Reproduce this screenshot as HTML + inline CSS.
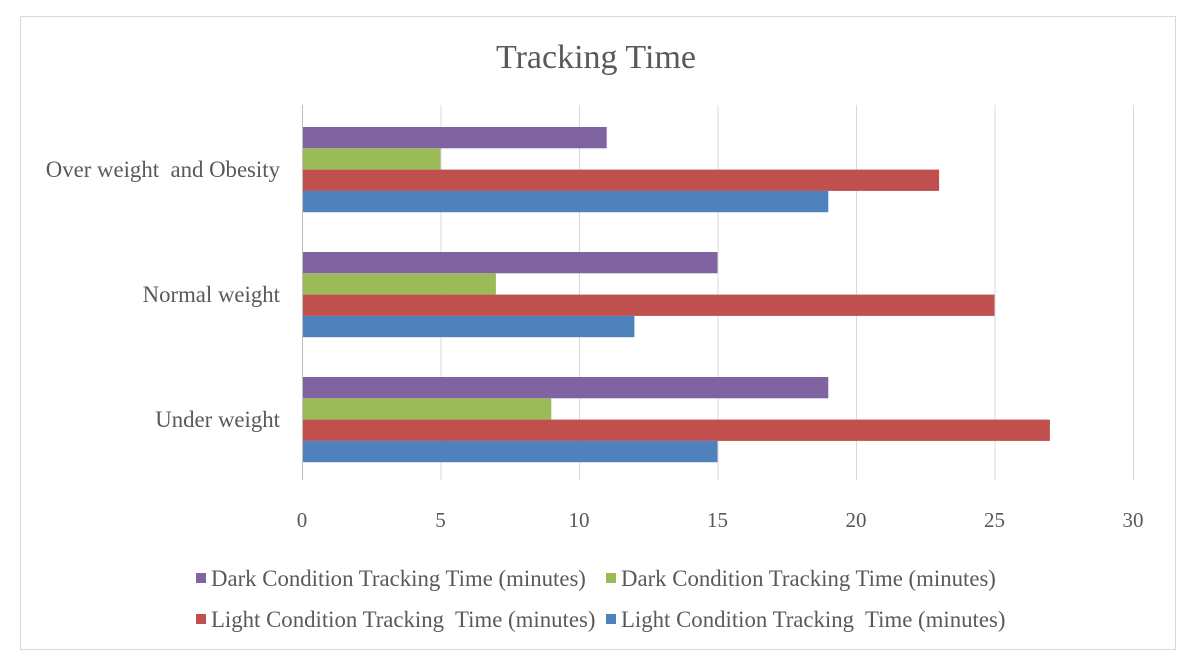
<!DOCTYPE html>
<html><head><meta charset="utf-8"><style>
body{margin:0;background:#fff;}
svg text{font-family:"Liberation Serif",serif;fill:#595959;white-space:pre;}
</style></head><body>
<svg width="1196" height="666" xmlns="http://www.w3.org/2000/svg">
<rect x="20.5" y="16.5" width="1155" height="633" fill="#fff" stroke="#d9d9d9"/>
<text x="596" y="68" font-size="34" text-anchor="middle">Tracking Time</text>
<g id="grid"></g><g id="bars"></g><g id="labels"></g>
<g id="legend" font-size="22.8"></g>
</svg>
<script>
const categories=["Over weight  and Obesity","Normal weight","Under weight"];
const darkPurple=[11,15,19];
const darkGreen=[5,7,9];
const lightRed=[23,25,27];
const lightBlue=[19,12,15];
const ticks=[0,5,10,15,20,25,30];
const seriesNames=["Dark Condition Tracking Time (minutes)","Dark Condition Tracking Time (minutes)","Light Condition Tracking  Time (minutes)","Light Condition Tracking  Time (minutes)"];
const series=[darkPurple,darkGreen,lightRed,lightBlue];
const colors=["#8064a2","#9bbb59","#c0504d","#4f81bd"];
const NS="http://www.w3.org/2000/svg";
const x0=302,x1=1133,vmax=30,plotTop=105,band=125;
const xs=v=>x0+(x1-x0)*v/vmax;
function mk(t,a,p){const e=document.createElementNS(NS,t);for(const k in a)e.setAttribute(k,a[k]);p.appendChild(e);return e;}
const grid=document.getElementById('grid'),bars=document.getElementById('bars'),labels=document.getElementById('labels'),legend=document.getElementById('legend');
ticks.forEach(t=>{
 const l=mk('line',{x1:xs(t)+0.5,x2:xs(t)+0.5,y1:plotTop,y2:plotTop+band*categories.length,stroke:t===0?'#bfbfbf':'#d9d9d9'},grid);
 
 
 const tx=mk('text',{x:xs(t),y:527,'font-size':21,'text-anchor':'middle'},labels);tx.textContent=t;
 
 
});
categories.forEach((c,i)=>{
 const bt=plotTop+band*i;
 const tx=mk('text',{x:280,y:bt+72,'font-size':22.8,'text-anchor':'end'},labels);tx.textContent=c;
 
 
 series.forEach((s,j)=>{
  const r=mk('rect',{x:x0+1,y:bt+22+j*21.3,width:xs(s[i])-x0-1,height:21.3,fill:colors[j]},bars);
  
  
 });
});
const lpos=[[196,579],[606,579],[196,620],[606,620]];
seriesNames.forEach((n,j)=>{
 const g=mk('g',{},legend);
 
 
 mk('rect',{x:lpos[j][0],y:lpos[j][1]-6,width:10,height:10,fill:colors[j]},g);
 const t=mk('text',{x:lpos[j][0]+15,y:lpos[j][1]+7},g);t.textContent=n;
});
</script>
</body></html>
